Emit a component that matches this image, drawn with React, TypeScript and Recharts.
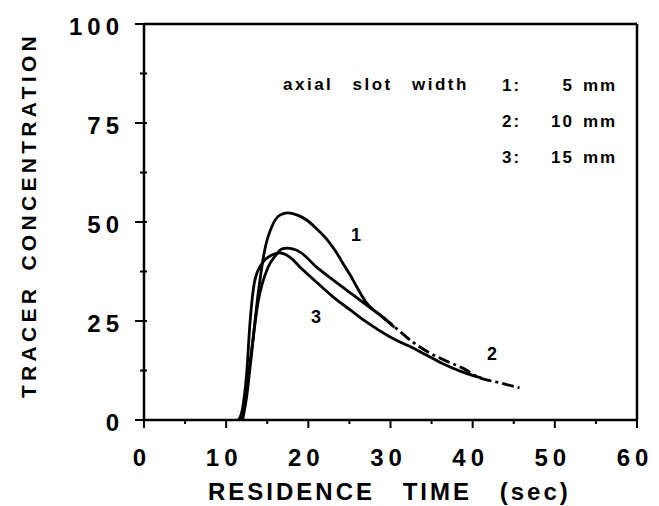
import React from "react";
import { LineChart, Line, XAxis, YAxis, ReferenceLine } from "recharts";

// curve 1: axial slot width 5 mm
const c1Time = [12.0, 12.5, 13.0, 13.9, 14.7, 15.7, 16.6, 17.5, 18.6, 19.8, 21.0, 22.3, 23.3, 24.2, 25.1, 25.9, 27.1, 28.7, 30.5];
const c1Conc = [0, 6, 15, 32, 43, 49.5, 51.8, 52.3, 51.8, 50.5, 48.3, 45.5, 42.7, 39.6, 36.6, 33.6, 29.5, 26.5, 23.4];

// curve 2: 10 mm (solid head, dashed tail)
const c2Time = [11.8, 12.3, 12.9, 13.9, 15.1, 16.0, 16.8, 17.4, 19.0, 21.0, 23.0, 25.1, 27.1, 29.1];
const c2Conc = [0, 5, 14.4, 30, 38.6, 41.5, 43.2, 43.4, 42.4, 38.6, 35.4, 32.1, 29.0, 26.0];
const c2TailTime = [29.1, 30.9, 32.7, 34.8, 36.8, 38.8, 40.9, 42.9, 45.7];
const c2TailConc = [26.0, 22.8, 19.7, 16.9, 14.9, 13.1, 10.6, 9.6, 8.1];

// curve 3: 15 mm
const c3Time = [11.5, 12.0, 12.5, 12.9, 13.5, 14.5, 15.5, 16.5, 17.7, 19.0, 21.0, 23.0, 25.1, 27.1, 29.9, 33.2, 36.0, 38.8, 41.1];
const c3Conc = [0, 3, 11.9, 24.5, 35.4, 39.9, 41.6, 42.2, 41.2, 38.6, 34.8, 31.1, 27.8, 24.7, 21.0, 17.7, 14.6, 12.1, 10.6];

const xTicks = [0, 5, 10, 15, 20, 25, 30, 35, 40, 45, 50, 55, 60];
const yTicks = [0, 12.5, 25, 37.5, 50, 62.5, 75, 87.5, 100];

const legendRows = [
  { id: "1:", width: "5", unit: "mm" },
  { id: "2:", width: "10", unit: "mm" },
  { id: "3:", width: "15", unit: "mm" },
];

const zip = (t: number[], c: number[]) => t.map((x, i) => ({ x, y: c[i] }));

const FONT = "'Liberation Sans', Arial, Helvetica, sans-serif";

function XTick(props: any) {
  const { x, y, payload } = props;
  const v = payload.value;
  const major = v % 10 === 0;
  return (
    <g>
      <line x1={x} x2={x} y1={y} y2={y + (major ? 8 : 4)} stroke="#000" strokeWidth={2} />
      {major && (
        <text x={x - 2} y={y + 46} textAnchor="middle" fontFamily={FONT} fontWeight="bold" fontSize={24} letterSpacing={5} fill="#000">
          {v}
        </text>
      )}
    </g>
  );
}

function YTick(props: any) {
  const { x, y, payload } = props;
  const v = payload.value;
  const major = v % 25 === 0;
  return (
    <g>
      <line x1={x - (major ? 9 : 4)} x2={x + 3} y1={y} y2={y} stroke="#000" strokeWidth={2} />
      {major && (
        <text x={x - 20} y={y + 11} textAnchor="end" fontFamily={FONT} fontWeight="bold" fontSize={24} letterSpacing={5} fill="#000">
          {v}
        </text>
      )}
    </g>
  );
}

export default function App() {
  return (
    <div style={{ position: "fixed", left: 0, top: 0, width: 659, height: 506, background: "#fff" }}>
      <LineChart width={659} height={506} margin={{ top: 24, right: 22, bottom: 46, left: 84 }}>
        <XAxis
          type="number"
          dataKey="x"
          domain={[0, 60]}
          ticks={xTicks}
          interval={0}
          tickSize={0}
          tickMargin={0}
          tickLine={false}
          tick={<XTick />}
          height={40}
          axisLine={{ stroke: "#000", strokeWidth: 2.5 }}
          allowDataOverflow
        />
        <YAxis
          type="number"
          dataKey="y"
          domain={[0, 100]}
          ticks={yTicks}
          interval={0}
          tickSize={0}
          tickMargin={0}
          tickLine={false}
          tick={<YTick />}
          width={60}
          axisLine={{ stroke: "#000", strokeWidth: 2.5 }}
          allowDataOverflow
        />
        <ReferenceLine y={100} stroke="#000" strokeWidth={2.5} />
        <ReferenceLine x={60} stroke="#000" strokeWidth={2.5} />
        <Line data={zip(c3Time, c3Conc)} dataKey="y" type="monotone" stroke="#000" strokeWidth={2.8} dot={false} isAnimationActive={false} />
        <Line data={zip(c2Time, c2Conc)} dataKey="y" type="monotone" stroke="#000" strokeWidth={2.8} dot={false} isAnimationActive={false} />
        <Line data={zip(c2TailTime, c2TailConc)} dataKey="y" type="monotone" stroke="#000" strokeWidth={2.8} strokeDasharray="12 4 3 4" dot={false} isAnimationActive={false} />
        <Line data={zip(c1Time, c1Conc)} dataKey="y" type="monotone" stroke="#000" strokeWidth={2.8} dot={false} isAnimationActive={false} />
      </LineChart>
      <svg width={659} height={506} style={{ position: "absolute", left: 0, top: 0, pointerEvents: "none" }}>
        <text
          transform="translate(36 215) rotate(-90)"
          textAnchor="middle"
          fontFamily={FONT}
          fontWeight="bold"
          fontSize={21}
          letterSpacing={4.3}
          wordSpacing={4}
          fill="#000"
        >
          TRACER CONCENTRATION
        </text>
        <text x={208} y={500} fontFamily={FONT} fontWeight="bold" fontSize={24} letterSpacing={3} wordSpacing={18} fill="#000">
          RESIDENCE TIME (sec)
        </text>
        <text x={283} y={90} fontFamily={FONT} fontWeight="bold" fontSize={17} letterSpacing={2.5} wordSpacing={12} fill="#000">
          axial slot width
        </text>
        {legendRows.map((r, i) => (
          <g key={r.id} fontFamily={FONT} fontWeight="bold" fontSize={17} letterSpacing={2} fill="#000">
            <text x={502} y={91 + i * 36}>{r.id}</text>
            <text x={574} y={91 + i * 36} textAnchor="end">{r.width}</text>
            <text x={583} y={91 + i * 36}>{r.unit}</text>
          </g>
        ))}
        <g fontFamily={FONT} fontWeight="bold" fontSize={18} fill="#000">
          <text x={356} y={241} textAnchor="middle">1</text>
          <text x={492} y={360} textAnchor="middle">2</text>
          <text x={316} y={323} textAnchor="middle">3</text>
        </g>
      </svg>
    </div>
  );
}
